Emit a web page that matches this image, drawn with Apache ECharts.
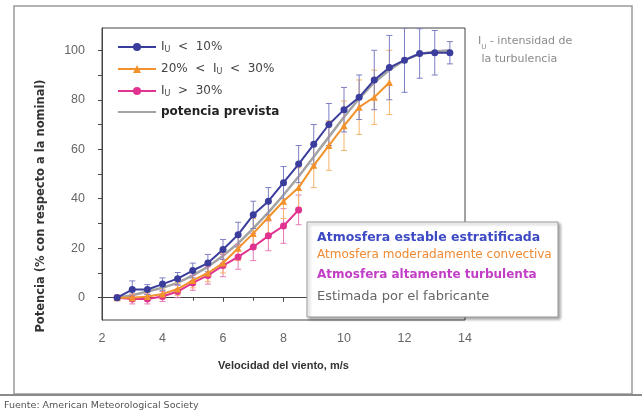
<!DOCTYPE html>
<html>
<head>
<meta charset="utf-8">
<script src="https://cdn.jsdelivr.net/npm/echarts@6/dist/echarts.min.js"></script>
<style>
  html, body { margin: 0; padding: 0; background: #fff; }
  #chart { width: 642px; height: 417px; }
</style>
</head>
<body>
<div id="chart"></div>
<script>
// velocidades del viento (m/s)
var windSpeed = [2.5, 3, 3.5, 4, 4.5, 5, 5.5, 6, 6.5, 7, 7.5, 8, 8.5, 9, 9.5, 10, 10.5, 11, 11.5, 12, 12.5, 13, 13.5]

// Iu < 10 %  (atmosfera estable)
var stableVals = [0, 3.3, 3.3, 5.5, 7.7, 11, 14, 19.5, 25.5, 33.5, 39, 46.5, 54, 62, 70, 76, 81, 88, 93, 96, 98.7, 99, 99]
var stableErr = [1, 3.5, 2, 2.5, 2.5, 3, 3.5, 4, 5, 5.5, 5.5, 6.5, 7.5, 8, 8.5, 9, 9, 12, 13, 13, 10, 9, 4.5]

// 20 % < Iu < 30 %
var convVals = [0, 0, 0.5, 1.5, 3.5, 7, 10, 14, 20, 26, 32.5, 39, 44.5, 53.5, 61.5, 69.5, 77, 81, 87]
var convErr = [1, 1.5, 1.5, 2, 2.5, 3, 3.5, 4, 5, 6, 6.5, 7, 8, 9, 10, 10, 11, 11, 13]

// Iu > 30 %
var turbVals = [0, -0.5, -0.5, 0.5, 2.5, 6, 9, 13, 16.5, 20.5, 25, 29, 35.5]
var turbErr = [1, 2, 2, 2, 2.5, 3, 3.5, 4.5, 5, 5.5, 6, 7, 6]

// curva del fabricante
var expectedVals = [0, 1, 2.5, 4, 6, 9, 12.5, 17, 22, 28, 34.5, 41.5, 49, 57, 65, 73, 80.5, 87, 92, 96, 98.5, 99.5, 100]

var yTicks = [0, 20, 40, 60, 80, 100]
var yMinorTicks = [0, 10, 20, 30, 40, 50, 60, 70, 80, 90, 100]

var names = ['Iu < 10%', '20% < Iu < 30%', 'Iu > 30%', 'potencia prevista']
var colors = ['#3b3d9c', '#f2922c', '#e0338f', '#a3a3a3']
var barColors = ['#7c7fc4', '#f6b46a', '#e87ab5']

function pairs (vals) {
  return vals.map(function (v, i) { return [windSpeed[i], v] })
}
function ranges (vals, errs) {
  return vals.map(function (v, i) { return [windSpeed[i], v - errs[i], v + errs[i]] })
}

// barras de error dibujadas con las escalas del eje
function errorBars (color) {
  return function (params, api) {
    var x = api.value(0)
    var lo = api.coord([x, api.value(1)])
    var hi = api.coord([x, api.value(2)])
    var w = 3
    var st = { stroke: color, lineWidth: 1 }
    return {
      type: 'group',
      children: [
        { type: 'line', shape: { x1: lo[0], y1: lo[1], x2: hi[0], y2: hi[1] }, style: st },
        { type: 'line', shape: { x1: lo[0] - w, y1: lo[1], x2: lo[0] + w, y2: lo[1] }, style: st },
        { type: 'line', shape: { x1: hi[0] - w, y1: hi[1], x2: hi[0] + w, y2: hi[1] }, style: st }
      ]
    }
  }
}

var legendText = {
  'Iu < 10%': '{t|I}{s|U}{t|  <  10%}',
  '20% < Iu < 30%': '{t|20%  <  I}{s|U}{t|  <  30%}',
  'Iu > 30%': '{t|I}{s|U}{t|  >  30%}',
  'potencia prevista': '{b|potencia prevista}'
}

var font = 'Liberation Sans, Arial, sans-serif'
var wide = 'DejaVu Sans, sans-serif'
var myChart = echarts.init(document.getElementById('chart'))

myChart.setOption({
  animation: false,
  textStyle: { fontFamily: font },
  grid: { left: 102, top: 28, width: 363, height: 292, show: true, borderColor: '#444', borderWidth: 1 },
  legend: {
    data: [
      { name: names[0] },
      { name: names[1] },
      { name: names[2] },
      { name: names[3], itemStyle: { opacity: 0 } }
    ],
    orient: 'vertical',
    left: 112,
    top: 35,
    itemWidth: 38,
    itemHeight: 10,
    itemGap: 8,
    formatter: function (name) { return legendText[name] },
    textStyle: {
      rich: {
        t: { fontSize: 12, color: '#444', fontFamily: wide, lineHeight: 14 },
        s: { fontSize: 8, color: '#444', fontFamily: wide, lineHeight: 14, verticalAlign: 'bottom', padding: [6, 0, 0, 0] },
        b: { fontSize: 12, color: '#222', fontWeight: 'bold', fontFamily: wide }
      }
    }
  },
  xAxis: {
    type: 'value',
    min: 2,
    max: 14,
    interval: 2,
    name: 'Velocidad del viento, m/s',
    nameLocation: 'middle',
    nameGap: 40,
    nameTextStyle: { fontSize: 11, fontWeight: 'bold', color: '#333' },
    axisLine: { lineStyle: { color: '#444' } },
    axisTick: { inside: false, length: 4, lineStyle: { color: '#444' } },
    minorTick: { show: true, splitNumber: 2, length: 3, lineStyle: { color: '#444' } },
    axisLabel: { fontSize: 12.5, color: '#666', margin: 12 },
    splitLine: { show: false }
  },
  yAxis: {
    type: 'value',
    min: -9,
    max: 109,
    axisLine: { show: true, lineStyle: { color: '#444' } },
    axisTick: { show: true, length: 4, customValues: yMinorTicks, lineStyle: { color: '#444' } },
    axisLabel: { fontSize: 12.5, color: '#666', margin: 17, customValues: yTicks },
    splitLine: { show: false }
  },
  series: [
    {
      name: names[3], type: 'line', data: pairs(expectedVals), showSymbol: false, symbol: 'none',
      lineStyle: { color: colors[3], width: 2.5 }, itemStyle: { color: colors[3] }, z: 1
    },
    {
      type: 'custom', data: ranges(turbVals, turbErr), renderItem: errorBars(barColors[2]), clip: true, z: 2, silent: true
    },
    {
      type: 'custom', data: ranges(convVals, convErr), renderItem: errorBars(barColors[1]), clip: true, z: 2, silent: true
    },
    {
      type: 'custom', data: ranges(stableVals, stableErr), renderItem: errorBars(barColors[0]), clip: true, z: 2, silent: true
    },
    {
      name: names[2], type: 'line', data: pairs(turbVals), symbol: 'circle', symbolSize: 7,
      lineStyle: { color: colors[2], width: 2 }, itemStyle: { color: colors[2] }, z: 3
    },
    {
      name: names[1], type: 'line', data: pairs(convVals), symbol: 'triangle', symbolSize: 7,
      lineStyle: { color: colors[1], width: 2 }, itemStyle: { color: colors[1] }, z: 4
    },
    {
      name: names[0], type: 'line', data: pairs(stableVals), symbol: 'circle', symbolSize: 7,
      lineStyle: { color: colors[0], width: 2 }, itemStyle: { color: colors[0] }, z: 5
    }
  ],
  graphic: [
    // marco exterior
    { type: 'rect', shape: { x: 14, y: 6, width: 618, height: 388 }, style: { fill: 'none', stroke: '#9a9a9a', lineWidth: 1.5 }, z: -10 },
    { type: 'line', shape: { x1: 0, y1: 395, x2: 642, y2: 395 }, style: { stroke: '#8a8a8a', lineWidth: 2 } },
    {
      type: 'text', left: 4, top: 401,
      style: { text: 'Fuente: American Meteorological Society', fontSize: 9.5, fill: '#555', fontFamily: wide }
    },
    // titulo del eje Y
    {
      type: 'text', x: 41, y: 206, rotation: Math.PI / 2,
      style: {
        text: 'Potencia (% con respecto a la nominal)', fontSize: 11.5, fontWeight: 'bold', fill: '#333',
        fontFamily: wide, align: 'center', verticalAlign: 'middle'
      }
    },
    // nota a la derecha
    {
      type: 'text', left: 478, top: 36,
      style: {
        text: '{t|I}{s|U}{t| - intensidad de}\n{t| la turbulencia}',
        rich: {
          t: { fontSize: 11, fill: '#8a8a8a', lineHeight: 18, fontFamily: wide },
          s: { fontSize: 7, fill: '#8a8a8a', lineHeight: 18, fontFamily: wide, verticalAlign: 'bottom', padding: [6, 0, 0, 0] }
        }
      }
    },
    // cuadro de atmosferas
    {
      type: 'rect', shape: { x: 307, y: 222, width: 251, height: 95 },
      style: { fill: '#fff', stroke: '#9a9a9a', lineWidth: 1, shadowBlur: 3, shadowOffsetX: 2, shadowOffsetY: 2, shadowColor: 'rgba(0,0,0,0.35)' },
      z: 50
    },
    { type: 'text', left: 317, top: 231, z: 51, style: { text: 'Atmosfera estable estratificada', fontSize: 12.5, fontWeight: 'bold', fill: '#3d4ac4', fontFamily: wide } },
    { type: 'text', left: 317, top: 249, z: 51, style: { text: 'Atmosfera moderadamente convectiva', fontSize: 12, fill: '#f08a34', fontFamily: wide } },
    { type: 'text', left: 317, top: 269, z: 51, style: { text: 'Atmosfera altamente turbulenta', fontSize: 12, fontWeight: 'bold', fill: '#c23ec6', fontFamily: wide } },
    { type: 'text', left: 317, top: 290, z: 51, style: { text: 'Estimada por el fabricante', fontSize: 13, fill: '#666', fontFamily: wide } }
  ]
})
</script>
</body>
</html>
